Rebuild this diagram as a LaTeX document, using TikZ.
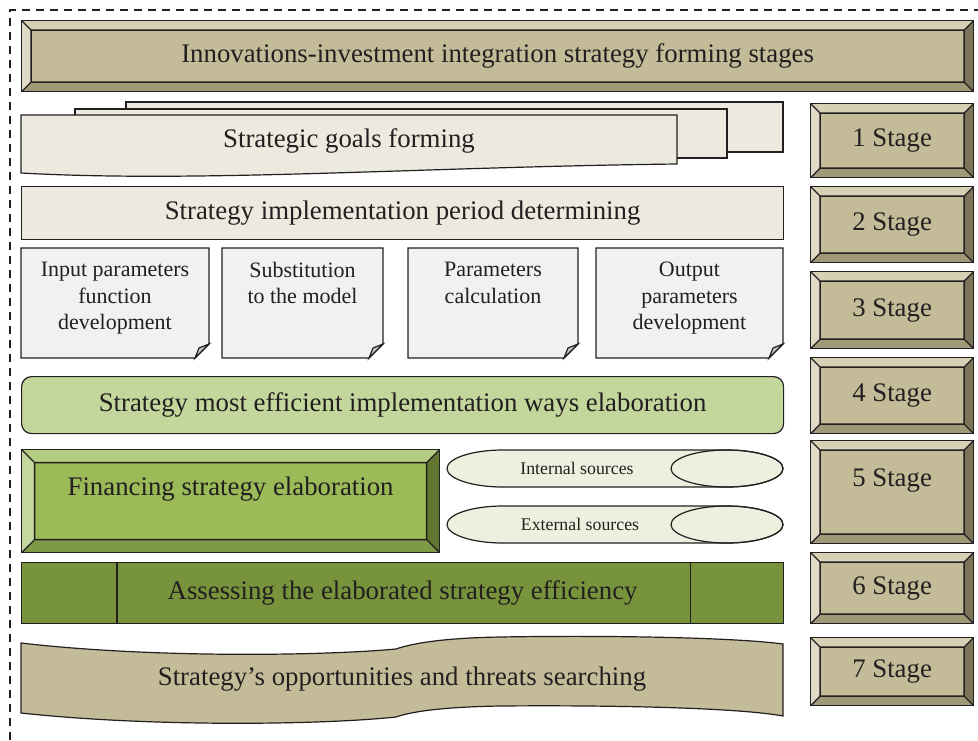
\documentclass[tikz,border=0pt]{standalone}
\usepackage{fontspec}
\setmainfont{Liberation Serif}
\usetikzlibrary{calc}

\definecolor{ink}{RGB}{35,31,32}
\definecolor{tanface}{RGB}{196,188,152}
\definecolor{tantop}{RGB}{214,209,181}
\definecolor{tanleft}{RGB}{222,218,198}
\definecolor{tanbot}{RGB}{160,152,118}
\definecolor{tanright}{RGB}{124,117,90}
\definecolor{paper}{RGB}{236,233,222}
\definecolor{note}{RGB}{240,241,243}
\definecolor{fold}{RGB}{200,200,200}
\definecolor{palegreen}{RGB}{195,214,155}
\definecolor{leafface}{RGB}{155,187,89}
\definecolor{leaftop}{RGB}{179,204,130}
\definecolor{leafleft}{RGB}{196,215,158}
\definecolor{leafbot}{RGB}{127,154,71}
\definecolor{leafright}{RGB}{95,117,48}
\definecolor{source}{RGB}{235,241,222}
\definecolor{moss}{RGB}{119,147,60}

% bevel faces: depth, top, left, bottom, right
\newcommand{\bevelfaces}[5]{%
  \coordinate (bsw) at (path picture bounding box.south west);
  \coordinate (bne) at (path picture bounding box.north east);
  \coordinate (bnw) at (bsw |- bne);
  \coordinate (bse) at (bne |- bsw);
  \coordinate (isw) at ($(bsw)+(#1pt,#1pt)$);
  \coordinate (ine) at ($(bne)+(-#1pt,-#1pt)$);
  \coordinate (inw) at ($(bnw)+(#1pt,-#1pt)$);
  \coordinate (ise) at ($(bse)+(-#1pt,#1pt)$);
  \fill[#2] (bnw) -- (bne) -- (ine) -- (inw) -- cycle;
  \fill[#3] (bnw) -- (inw) -- (isw) -- (bsw) -- cycle;
  \fill[#4] (bsw) -- (isw) -- (ise) -- (bse) -- cycle;
  \fill[#5] (bse) -- (ise) -- (ine) -- (bne) -- cycle;
  \draw[ink,line width=1.3pt] (isw) rectangle (ine)
    (bnw) -- (inw) (bne) -- (ine) (bsw) -- (isw) (bse) -- (ise);
}

\begin{document}
\begin{tikzpicture}[x=1pt,y=1pt,every node/.style={text=ink}]
  \tikzstyle{rim}=[draw=ink,line width=1.2pt]
  \tikzstyle{txtL}=[font=\fontsize{26.8}{31}\selectfont]
  \tikzstyle{txtM}=[font=\fontsize{22}{26.5}\selectfont,align=center,inner sep=0pt]
  \tikzstyle{txtS}=[font=\fontsize{17.8}{21}\selectfont]
  \tikzstyle{stage}=[rim,fill=tanface,txtL,inner sep=0pt,anchor=north west,minimum width=163pt,
                     path picture={\bevelfaces{9.5}{tantop}{tanleft}{tanbot}{tanright}}]

  \useasboundingbox (0,0) rectangle (978,-740);
  \draw[ink,line width=1.3pt,dash pattern=on 8pt off 6pt] (10,-740) -- (10,-10) -- (978,-10);

  \node[stage,minimum width=952pt,minimum height=71pt] (title) at (21,-20)
    {Innovations-investment integration strategy forming stages};

  % stages
  \node[stage,minimum height=74pt] (s1) at (810,-103) {1 Stage};
  \node[stage,minimum height=76pt] (s2) at (810,-186) {2 Stage};
  \node[stage,minimum height=77pt] (s3) at (810,-271) {3 Stage};
  \node[stage,minimum height=76pt] (s4) at (810,-357) {4 Stage};
  \node[stage,minimum height=103pt] (s5) at (810,-440) {};
  \node[txtL] (s5t) at ([yshift=12pt]s5.center) {5 Stage};
  \node[stage,minimum height=71pt] (s6) at (810,-552) {6 Stage};
  \node[stage,minimum height=68pt] (s7) at (810,-637) {7 Stage};

  % goals
  \draw[rim,fill=paper] (126,-102) rectangle (783,-152);
  \draw[rim,fill=paper] (75,-109) rectangle (727,-158);
  \draw[rim,fill=paper] (21,-115) -- (677,-115) -- (677,-164)
    .. controls (420,-167) and (200,-183) .. (21,-173) -- cycle;
  \node[txtL] (goals) at (349,-141) {Strategic goals forming};

  \node[rim,fill=paper,txtL,anchor=north west,minimum width=762pt,minimum height=53pt] (period)
    at (21,-186) {Strategy implementation period determining};

  % model cards
  \draw[rim,fill=note] (21,-248) -- (209,-248) -- (209,-344) -- (195,-358) -- (21,-358) -- cycle;
  \draw[rim,fill=fold] (209,-344) -- (195,-358) -- (199,-348) -- cycle;
  \node[txtM,anchor=north] (inp) at (115,-262) {Input parameters\\function\\development};

  \draw[rim,fill=note] (222,-248) -- (383,-248) -- (383,-344) -- (369,-358) -- (222,-358) -- cycle;
  \draw[rim,fill=fold] (383,-344) -- (369,-358) -- (373,-348) -- cycle;
  \node[txtM,anchor=north] (subst) at (302.5,-262) {Substitution\\to the model};

  \draw[rim,fill=note] (408,-248) -- (578,-248) -- (578,-344) -- (564,-358) -- (408,-358) -- cycle;
  \draw[rim,fill=fold] (578,-344) -- (564,-358) -- (568,-348) -- cycle;
  \node[txtM,anchor=north] (calc) at (493,-262) {Parameters\\calculation};

  \draw[rim,fill=note] (596,-248) -- (783,-248) -- (783,-344) -- (769,-358) -- (596,-358) -- cycle;
  \draw[rim,fill=fold] (783,-344) -- (769,-358) -- (773,-348) -- cycle;
  \node[txtM,anchor=north] (outp) at (689.5,-262) {Output\\parameters\\development};

  \node[rim,fill=palegreen,rounded corners=10pt,txtL,anchor=north west,minimum width=762pt,
        minimum height=57pt] (ways) at (21,-376) {Strategy most efficient implementation ways elaboration};

  % financing
  \node[rim,fill=leafface,anchor=north west,minimum width=418pt,minimum height=103pt,
        path picture={\bevelfaces{13}{leaftop}{leafleft}{leafbot}{leafright}}] (fin) at (21,-449) {};
  \node[txtL] (fint) at ([yshift=12pt]fin.center) {Financing strategy elaboration};

  \draw[rim,fill=source] (503,-450) -- (727,-450) arc[start angle=90,end angle=-90,x radius=56,y radius=18.5]
    -- (503,-487) arc[start angle=270,end angle=90,x radius=56,y radius=18.5] -- cycle;
  \draw[rim] (727,-468.5) ellipse[x radius=56,y radius=18.5];
  \node[txtS] (int) at (577,-468) {Internal sources};

  \draw[rim,fill=source] (503,-506) -- (727,-506) arc[start angle=90,end angle=-90,x radius=56,y radius=18.5]
    -- (503,-543) arc[start angle=270,end angle=90,x radius=56,y radius=18.5] -- cycle;
  \draw[rim] (727,-524.5) ellipse[x radius=56,y radius=18.5];
  \node[txtS] (ext) at (580,-524.5) {External sources};

  \node[rim,fill=moss,txtL,anchor=north west,minimum width=762pt,minimum height=61pt] (assess)
    at (21,-562) {Assessing the elaborated strategy efficiency};
  \draw[rim] ([xshift=96pt]assess.north west) -- ([xshift=96pt]assess.south west)
             ([xshift=-94pt]assess.north east) -- ([xshift=-94pt]assess.south east);

  % banner
  \draw[rim,fill=tanface] (21,-643) .. controls (150,-658) and (320,-656) .. (396,-649)
    .. controls (410,-644) and (440,-638) .. (500,-637) .. controls (620,-635) and (740,-638) .. (783,-644)
    -- (783,-716) .. controls (740,-708) and (620,-705) .. (500,-706)
    .. controls (440,-707) and (410,-712) .. (396,-717) .. controls (320,-725) and (150,-727) .. (21,-713) -- cycle;
  \node[txtL] (threats) at (402,-679) {Strategy’s opportunities and threats searching};
\end{tikzpicture}
\end{document}
